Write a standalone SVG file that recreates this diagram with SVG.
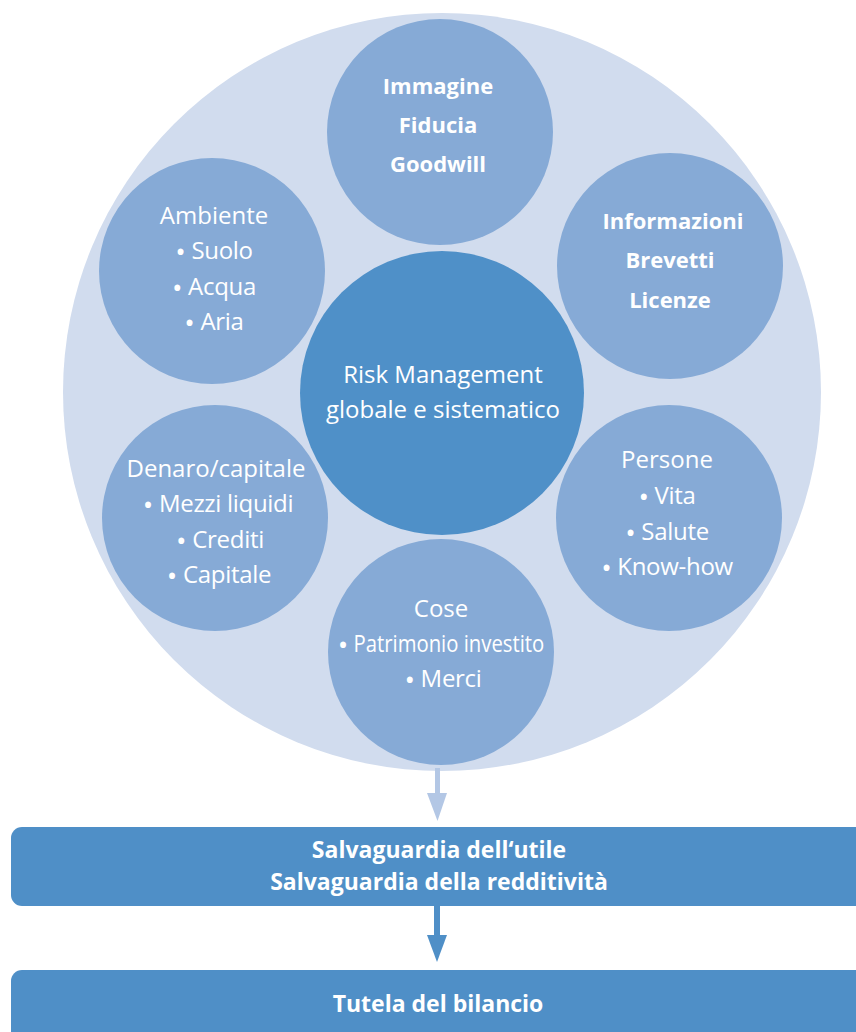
<svg xmlns="http://www.w3.org/2000/svg" width="856" height="1032" viewBox="0 0 856 1032">
<style>
.bg{fill:#d1dcee}
.sm{fill:#86aad6}
.ct{fill:#4f90c8}
.box{fill:#4f8fc7}
text{font-family:"Open Sans","Noto Sans","Liberation Sans",sans-serif;fill:#ffffff;text-anchor:middle}
.b{font-weight:700;font-size:22px}
.bb{font-weight:700;font-size:23px}
.r{font-weight:400;font-size:24px}
.l{letter-spacing:-0.3px}
.d{font-size:28px}
</style>
<rect width="856" height="1032" fill="#ffffff"/>
<g id="outer"><circle class="bg" cx="442" cy="392" r="379"/></g>
<g id="connectors">
<rect x="435" y="768" width="5" height="27" fill="#b3c7e5"/>
<polygon points="427,793 447,793 437.5,821" fill="#b3c7e5"/>
<rect x="434" y="905" width="6" height="32" fill="#4f8fc7"/>
<polygon points="427,935 447,935 437,962" fill="#4f8fc7"/>
</g>
<g id="immagine"><circle class="sm" cx="440" cy="132" r="113"/>
<text class="b" x="438" y="94">Immagine</text>
<text class="b" x="438" y="133">Fiducia</text>
<text class="b" x="438" y="172">Goodwill</text></g>
<g id="informazioni"><circle class="sm" cx="670" cy="266" r="113"/>
<text class="b" x="673" y="229">Informazioni</text>
<text class="b" x="670" y="268">Brevetti</text>
<text class="b" x="670" y="308">Licenze</text></g>
<g id="ambiente"><circle class="sm" cx="212" cy="271" r="113"/>
<text class="r" x="214" y="224">Ambiente</text>
<text class="r l" x="214" y="259"><tspan class="d" dy="2.5">•</tspan><tspan dy="-2.5"> Suolo</tspan></text>
<text class="r l" x="214" y="295"><tspan class="d" dy="2.5">•</tspan><tspan dy="-2.5"> Acqua</tspan></text>
<text class="r l" x="214" y="330"><tspan class="d" dy="2.5">•</tspan><tspan dy="-2.5"> Aria</tspan></text></g>
<g id="denaro"><circle class="sm" cx="215" cy="518" r="113"/>
<text class="r" x="216" y="477">Denaro/capitale</text>
<text class="r l" x="218" y="512"><tspan class="d" dy="2.5">•</tspan><tspan dy="-2.5"> Mezzi liquidi</tspan></text>
<text class="r l" x="220" y="548"><tspan class="d" dy="2.5">•</tspan><tspan dy="-2.5"> Crediti</tspan></text>
<text class="r l" x="219" y="583"><tspan class="d" dy="2.5">•</tspan><tspan dy="-2.5"> Capitale</tspan></text></g>
<g id="persone"><circle class="sm" cx="669" cy="518" r="113"/>
<text class="r" x="667" y="468">Persone</text>
<text class="r l" x="667" y="504"><tspan class="d" dy="2.5">•</tspan><tspan dy="-2.5"> Vita</tspan></text>
<text class="r l" x="667" y="540"><tspan class="d" dy="2.5">•</tspan><tspan dy="-2.5"> Salute</tspan></text>
<text class="r l" x="667" y="575"><tspan class="d" dy="2.5">•</tspan><tspan dy="-2.5"> Know-how</tspan></text></g>
<g id="cose"><circle class="sm" cx="441" cy="652" r="113"/>
<text class="r" x="441" y="617">Cose</text>
<text class="r" x="441" y="652"><tspan class="d" dy="2.5">•</tspan><tspan dy="-2.5" textLength="196" lengthAdjust="spacingAndGlyphs"> Patrimonio investito</tspan></text>
<text class="r l" x="443" y="687"><tspan class="d" dy="2.5">•</tspan><tspan dy="-2.5"> Merci</tspan></text></g>
<g id="risk"><circle class="ct" cx="442" cy="393" r="142"/>
<text class="r" x="443" y="383">Risk Management</text>
<text class="r" x="443" y="418">globale e sistematico</text></g>
<g id="salvaguardia"><rect class="box" x="11" y="827" width="860" height="79" rx="11"/>
<text class="bb" x="439" y="858">Salvaguardia dell‘utile</text>
<text class="bb" x="439" y="890">Salvaguardia della redditività</text></g>
<g id="tutela"><rect class="box" x="11" y="970" width="860" height="80" rx="11"/>
<text class="bb" x="438" y="1012">Tutela del bilancio</text></g>
</svg>
